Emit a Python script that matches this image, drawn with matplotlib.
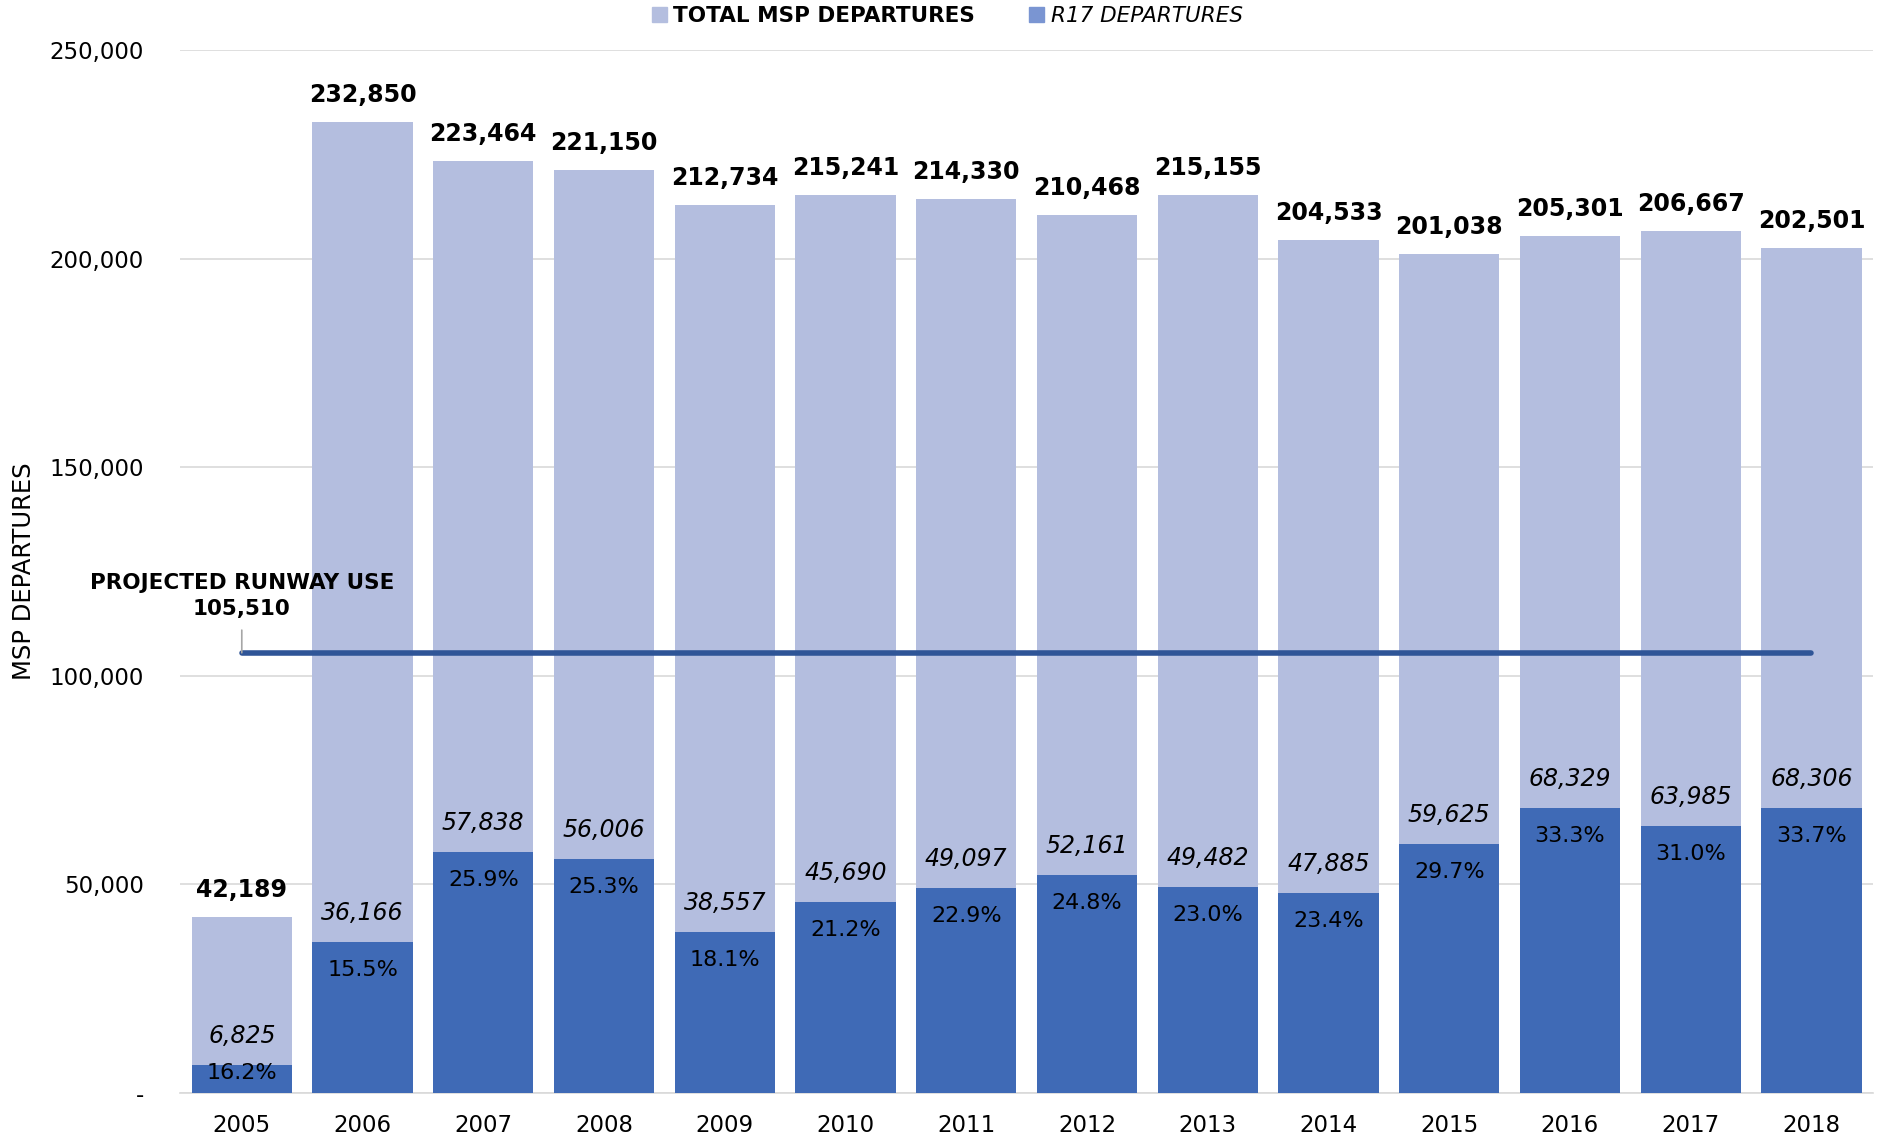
import matplotlib.pyplot as plt
from matplotlib.patches import Patch
from matplotlib.ticker import FuncFormatter

years = ['2005', '2006', '2007', '2008', '2009', '2010', '2011',
         '2012', '2013', '2014', '2015', '2016', '2017', '2018']
total = [42189, 232850, 223464, 221150, 212734, 215241, 214330,
         210468, 215155, 204533, 201038, 205301, 206667, 202501]
r17 = [6825, 36166, 57838, 56006, 38557, 45690, 49097,
       52161, 49482, 47885, 59625, 68329, 63985, 68306]
pct = ['16.2%', '15.5%', '25.9%', '25.3%', '18.1%', '21.2%', '22.9%',
       '24.8%', '23.0%', '23.4%', '29.7%', '33.3%', '31.0%', '33.7%']
projected = 105510

light = '#B4BEDF'
dark = '#3F6AB6'
line_col = '#2F5597'
plt.rcParams['font.family'] = ['DejaVu Sans']

fig = plt.figure(figsize=(18.83, 11.39), dpi=100)
ax = fig.add_axes([0.0957, 0.0404, 0.899, 0.9157])

x = list(range(len(years)))
w = 0.83
ax.bar(x, total, w, color=light, zorder=2)
ax.bar(x, r17, w, color=dark, zorder=3)

for i in x:
    ax.annotate(f'{total[i]:,}', (i, total[i]), xytext=(0, 27), textcoords='offset pixels',
                ha='center', va='center', fontsize=17, fontweight='bold', color='black', zorder=5)
    ax.annotate(f'{r17[i]:,}', (i, r17[i]), xytext=(0, 29), textcoords='offset pixels',
                ha='center', va='center', fontsize=17, fontstyle='italic', color='black', zorder=5)
    # keep the share label inside short bars
    ylab = max(r17[i], 4900 + 28 * 250000 / 1043)
    ax.annotate(pct[i], (i, ylab), xytext=(0, -28), textcoords='offset pixels',
                ha='center', va='center', fontsize=16, color='black', zorder=5)

ax.plot([0, len(years) - 1], [projected, projected], color=line_col, lw=4,
        solid_capstyle='round', zorder=4)
ax.annotate(f'PROJECTED RUNWAY USE\n{projected:,}', (0, projected), xytext=(0, 57),
            textcoords='offset pixels', ha='center', va='center', fontsize=15.5,
            fontweight='bold', linespacing=1.4, zorder=5,
            arrowprops=dict(arrowstyle='-', color='#A6A6A6', lw=1.2, shrinkA=6, shrinkB=0))

ax.set_xlim(-0.51, len(years) - 0.49)
ax.set_ylim(0, 250000)
ax.set_yticks(range(0, 250001, 50000))
ax.yaxis.set_major_formatter(FuncFormatter(lambda v, p: '-' if v == 0 else f'{int(v):,}'))
ax.set_xticks(x)
ax.set_xticklabels(years)
ax.tick_params(axis='x', length=0, labelsize=16.5, pad=15)
ax.tick_params(axis='y', length=0, labelsize=16.5, pad=26)
ax.grid(axis='y', color='#D9D9D9', lw=1.2, zorder=0)
ax.set_axisbelow(True)
for s in ['top', 'right', 'left']:
    ax.spines[s].set_visible(False)
ax.spines['bottom'].set_color('#D9D9D9')
ax.spines['bottom'].set_linewidth(1.2)
ax.set_ylabel('MSP DEPARTURES', fontsize=17.5, labelpad=10)

handles = [Patch(color=light), Patch(color='#7A95D2')]
leg = fig.legend(handles, ['TOTAL MSP DEPARTURES', 'R17 DEPARTURES'], loc='center',
                 bbox_to_anchor=(0.503, 0.986), ncol=2, frameon=False, fontsize=15.5,
                 handlelength=0.7, handleheight=0.7, handletextpad=0.3, columnspacing=2.5)
leg.get_texts()[0].set_fontweight('bold')
leg.get_texts()[1].set_fontstyle('italic')

plt.savefig('out.png', dpi=100)
